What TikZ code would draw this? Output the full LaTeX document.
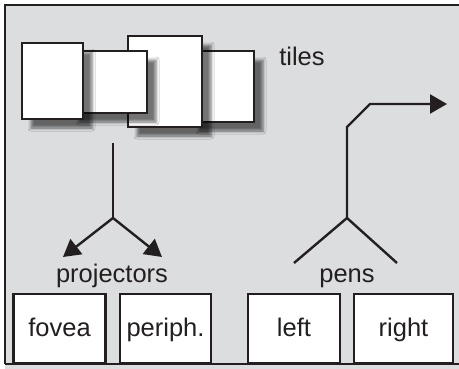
\documentclass[tikz,border=0pt]{standalone}
\usepackage{fontspec}
\setmainfont{Liberation Sans}
\usetikzlibrary{arrows.meta,shadows.blur}
\definecolor{panel}{RGB}{220,221,223}
\definecolor{ink}{RGB}{35,31,32}
\tikzset{
  tile/.style={draw=ink, line width=2.4pt, fill=white, inner sep=0pt,
    blur shadow={shadow xshift=9pt, shadow yshift=-9pt, shadow blur radius=3pt, shadow opacity=55}},
  unit/.style={draw=ink, line width=2.4pt, fill=white, inner sep=0pt, minimum height=69pt,
    text height=19pt, text depth=2pt, font=\fontsize{25.5}{30}\selectfont},
  lbl/.style={anchor=base, inner sep=0pt, font=\fontsize{25.5}{30}\selectfont}
}
\begin{document}
\begin{tikzpicture}[x=1pt, y=-1pt, ink, line width=2.4pt, >={Triangle[length=17pt,width=19pt]}]
\useasboundingbox (0,0) rectangle (459,369);
\fill[panel] (5,5) rectangle (459,369);
\draw[line width=2.5pt] (5,364) -- (5,5) -- (462,5); \draw[line width=2.5pt] (5,364) -- (462,364);

% tiles, back to front
\node[tile, minimum width=64pt, minimum height=71pt] (t4) at (222,86.5) {};
\node[tile, minimum width=74pt, minimum height=91pt] (t3) at (165,81.5) {};
\node[tile, minimum width=77pt, minimum height=62pt] (t2) at (108.5,82) {};
\node[tile, minimum width=61pt, minimum height=76pt] (t1) at (52.5,81) {};
\node[lbl] (tileslbl) at (302,66) {tiles};

% projectors
\coordinate (stem) at (113,143); \coordinate (split) at (113,218);
\coordinate (fovtip) at (63,257); \coordinate (pertip) at (162,257);
\draw (stem) -- (split); \draw[->] (split) -- (fovtip); \draw[->] (split) -- (pertip);
\node[lbl] (projlbl) at (112,283) {projectors};

% pens
\coordinate (penjoint) at (347,218); \coordinate (penl) at (294,263); \coordinate (penr) at (397,263);
\coordinate (bend) at (347,127); \coordinate (kink) at (370,104); \coordinate (out) at (447,104);
\draw (penl) -- (penjoint) -- (penr); \draw[->] (penjoint) -- (bend) -- (kink) -- (out);
\node[lbl] (penslbl) at (347,283) {pens};

\node[unit, minimum width=92pt] (fovea) at (59.5,328.5) {fovea};
\node[unit, minimum width=91pt] (periph) at (165.5,328.5) {periph.};
\node[unit, minimum width=92pt] (left) at (294,328.5) {left};
\node[unit, minimum width=99pt] (right) at (403.5,328.5) {right};
\end{tikzpicture}
\end{document}
